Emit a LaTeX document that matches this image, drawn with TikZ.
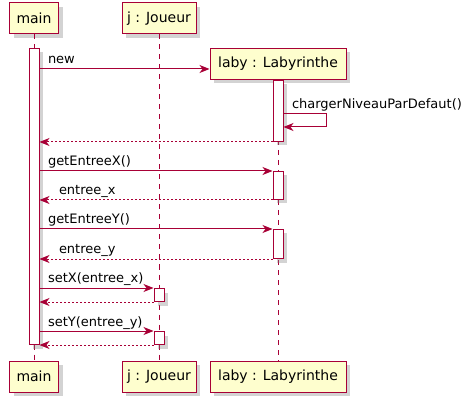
\documentclass[tikz,border=0pt]{standalone}
\usepackage{fontspec}
\setmainfont{DejaVu Sans}
\usetikzlibrary{positioning, shadows, arrows.meta}
\definecolor{umlred}{HTML}{A80036}
\definecolor{umlfill}{HTML}{FEFECE}
\tikzset{
every picture/.style={
line width=1pt
}}

\begin{document}
\begin{tikzpicture}[x=1pt, y=-1pt,
font=\fontsize{13}{15}\selectfont,
part/.style = {rectangle, draw=umlred, fill=umlfill, minimum height=31pt, inner sep=0pt,
  font=\fontsize{14}{16}\selectfont,
  drop shadow={shadow xshift=4pt, shadow yshift=-4pt, opacity=0.35}},
bar/.style = {rectangle, draw=umlred, fill=white, minimum width=10pt, inner sep=0pt, anchor=north,
  drop shadow={shadow xshift=4pt, shadow yshift=-4pt, opacity=0.35}},
life/.style = {draw=umlred, dash pattern=on 5pt off 5pt},
msg/.style = {draw=umlred, -{Stealth[length=10pt, width=8pt, inset=3pt]}},
ret/.style = {msg, dash pattern=on 2pt off 2pt},
lbl/.style = {anchor=base west, inner sep=0pt, text=black}]

\useasboundingbox (0,0) rectangle (469,409);

  % participants
  \node[part, minimum width=49pt] (main_top) at (34,18.5) {main};
  \node[part, minimum width=74pt] (j_top) at (159,18.5) {j : Joueur};
  \node[part, minimum width=136pt] (laby_top) at (278,64) {laby : Labyrinthe};
  \node[part, minimum width=49pt] (main_bot) at (34,376.5) {main};
  \node[part, minimum width=74pt] (j_bot) at (159,376.5) {j : Joueur};
  \node[part, minimum width=136pt] (laby_bot) at (278,376.5) {laby : Labyrinthe};

  % lifelines
  \draw[life] (main_top) -- (main_bot);
  \draw[life] (j_top) -- (j_bot);
  \draw[life] (laby_top) -- (laby_bot);

  % activations
  \node[bar, minimum height=296pt] (act_main) at (34,48) {};
  \node[bar, minimum height=61pt] (act_laby) at (278,80) {};
  \node[bar, minimum height=28pt] (act_lx) at (278,171) {};
  \node[bar, minimum height=29pt] (act_ly) at (278,229) {};
  \node[bar, minimum height=13pt] (act_jx) at (159,288) {};
  \node[bar, minimum height=13pt] (act_jy) at (159,331) {};

  \coordinate (y_new) at (0,69);
  \coordinate (y_self) at (0,114);
  \coordinate (y_selfb) at (0,127);

  % messages
  \draw[msg] (act_main.east |- y_new) -- (laby_top.west |- y_new)
    node[lbl, pos=0, xshift=8pt, yshift=5pt] (l_new) {new};
  \draw[msg] (act_laby.east |- y_self) -- ++(43,0)
    node[lbl, pos=0, xshift=8pt, yshift=5pt] (l_self) {chargerNiveauParDefaut()}
    |- (act_laby.east |- y_selfb);
  \draw[ret] (act_laby.south west) -- (act_main.east |- act_laby.south);

  \draw[msg] (act_main.east |- act_lx.north) -- (act_lx.north west)
    node[lbl, pos=0, xshift=8pt, yshift=5pt] (l_getx) {getEntreeX()};
  \draw[ret] (act_lx.south west) -- (act_main.east |- act_lx.south)
    node[lbl, pos=1, xshift=19pt, yshift=5pt] (l_x) {entree\_x};

  \draw[msg] (act_main.east |- act_ly.north) -- (act_ly.north west)
    node[lbl, pos=0, xshift=8pt, yshift=5pt] (l_gety) {getEntreeY()};
  \draw[ret] (act_ly.south west) -- (act_main.east |- act_ly.south)
    node[lbl, pos=1, xshift=19pt, yshift=5pt] (l_y) {entree\_y};

  \draw[msg] (act_main.east |- act_jx.north) -- (act_jx.north west)
    node[lbl, pos=0, xshift=8pt, yshift=5pt] (l_setx) {setX(entree\_x)};
  \draw[ret] (act_jx.south west) -- (act_main.east |- act_jx.south);

  \draw[msg] (act_main.east |- act_jy.north) -- (act_jy.north west)
    node[lbl, pos=0, xshift=8pt, yshift=5pt] (l_sety) {setY(entree\_y)};
  \draw[ret] (act_jy.south west) -- (act_main.south east);

\end{tikzpicture}
\end{document}
